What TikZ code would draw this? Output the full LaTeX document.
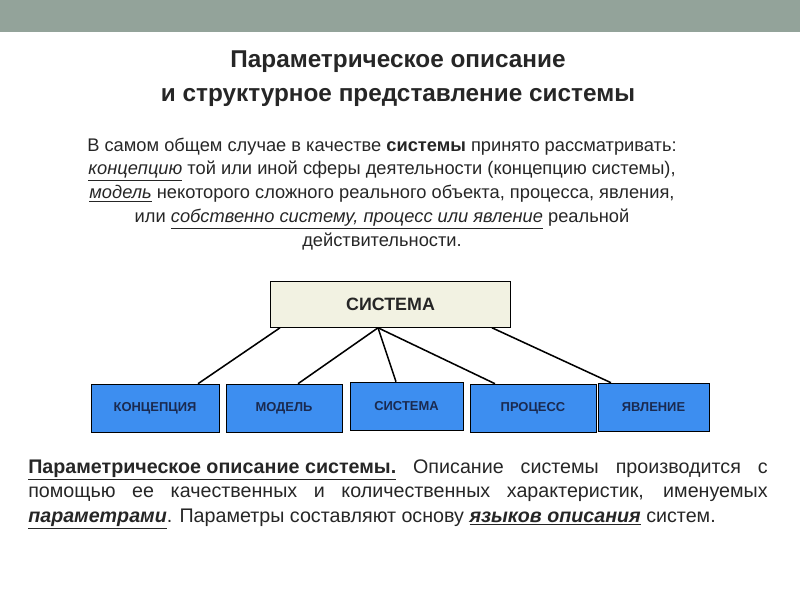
\documentclass[tikz,border=0pt]{standalone}
\usepackage{fontspec}
\setmainfont{Liberation Sans}
\definecolor{band}{HTML}{93A39A}
\definecolor{txt}{HTML}{262626}
\definecolor{beige}{HTML}{F2F2E2}
\definecolor{boxblue}{HTML}{3D8EF0}
\definecolor{navy}{HTML}{1A2A50}
\tikzset{
  topbox/.style={draw=black,fill=beige,minimum width=6.0cm,minimum height=1.15cm,font=\fontsize{12.7}{15}\selectfont\bfseries,text=txt},
  subbox/.style={draw=black,fill=boxblue,minimum height=1.2cm,font=\fontsize{9.2}{11}\selectfont\bfseries,text=navy},
  link/.style={draw=black,line width=1.1pt}
}
\begin{document}
\begin{tikzpicture}[x=0.025cm,y=-0.025cm]
\useasboundingbox (0,0) rectangle (800,600);
\fill[band] (0,0) rectangle (800,32);

%title
\node[text=txt,font=\fontsize{17.3}{24}\selectfont\bfseries,align=center] (title) at (398,79)
  {Параметрическое описание\\и структурное представление системы};

%definition
\node[text=txt,font=\fontsize{13}{17}\selectfont,align=center] (def) at (382,194)
  {В самом общем случае в качестве \textbf{системы} принято рассматривать:\\
   \underline{\textit{концепцию}} той или иной сферы деятельности (концепцию системы),\\
   \underline{\textit{модель}} некоторого сложного реального объекта, процесса, явления,\\
   или \underline{\textit{собственно систему, процесс или явление}} реальной\\
   действительности.};

%boxes
\node[topbox] (sys) at (390.5,304.5) {СИСТЕМА};
\node[subbox,minimum width=3.2cm] (conc) at (155,408) {КОНЦЕПЦИЯ};
\node[subbox,minimum width=2.9cm] (mod) at (284,408) {МОДЕЛЬ};
\node[subbox,minimum width=2.825cm] (sys2) at (406.5,406) {СИСТЕМА};
\node[subbox,minimum width=3.15cm] (proc) at (533,408) {ПРОЦЕСС};
\node[subbox,minimum width=2.775cm] (phen) at (653.5,407) {ЯВЛЕНИЕ};

\path[link] (sys.south -| 280,0) -- (conc.north -| 198,0);
\path[link] (sys.south -| 378,0) -- (mod.north -| 298,0);
\path[link] (sys.south -| 378,0) -- (sys2.north -| 396,0);
\path[link] (sys.south -| 378,0) -- (proc.north -| 495,0);
\path[link] (sys.south -| 492,0) -- (phen.north -| 611,0);

%parametric description
\node[text=txt,font=\fontsize{14}{17.6}\selectfont,text width=18.48cm,align=justify,anchor=north west,inner sep=0pt] (par) at (28,459)
  {\underline{\textbf{Параметрическое описание системы.}} Описание системы производится с\linebreak
   помощью ее качественных и количественных характеристик, именуемых\linebreak
   \underline{\textbf{\textit{параметрами}}}. Параметры составляют основу \underline{\textbf{\textit{языков описания}}} систем.};
\end{tikzpicture}
\end{document}
